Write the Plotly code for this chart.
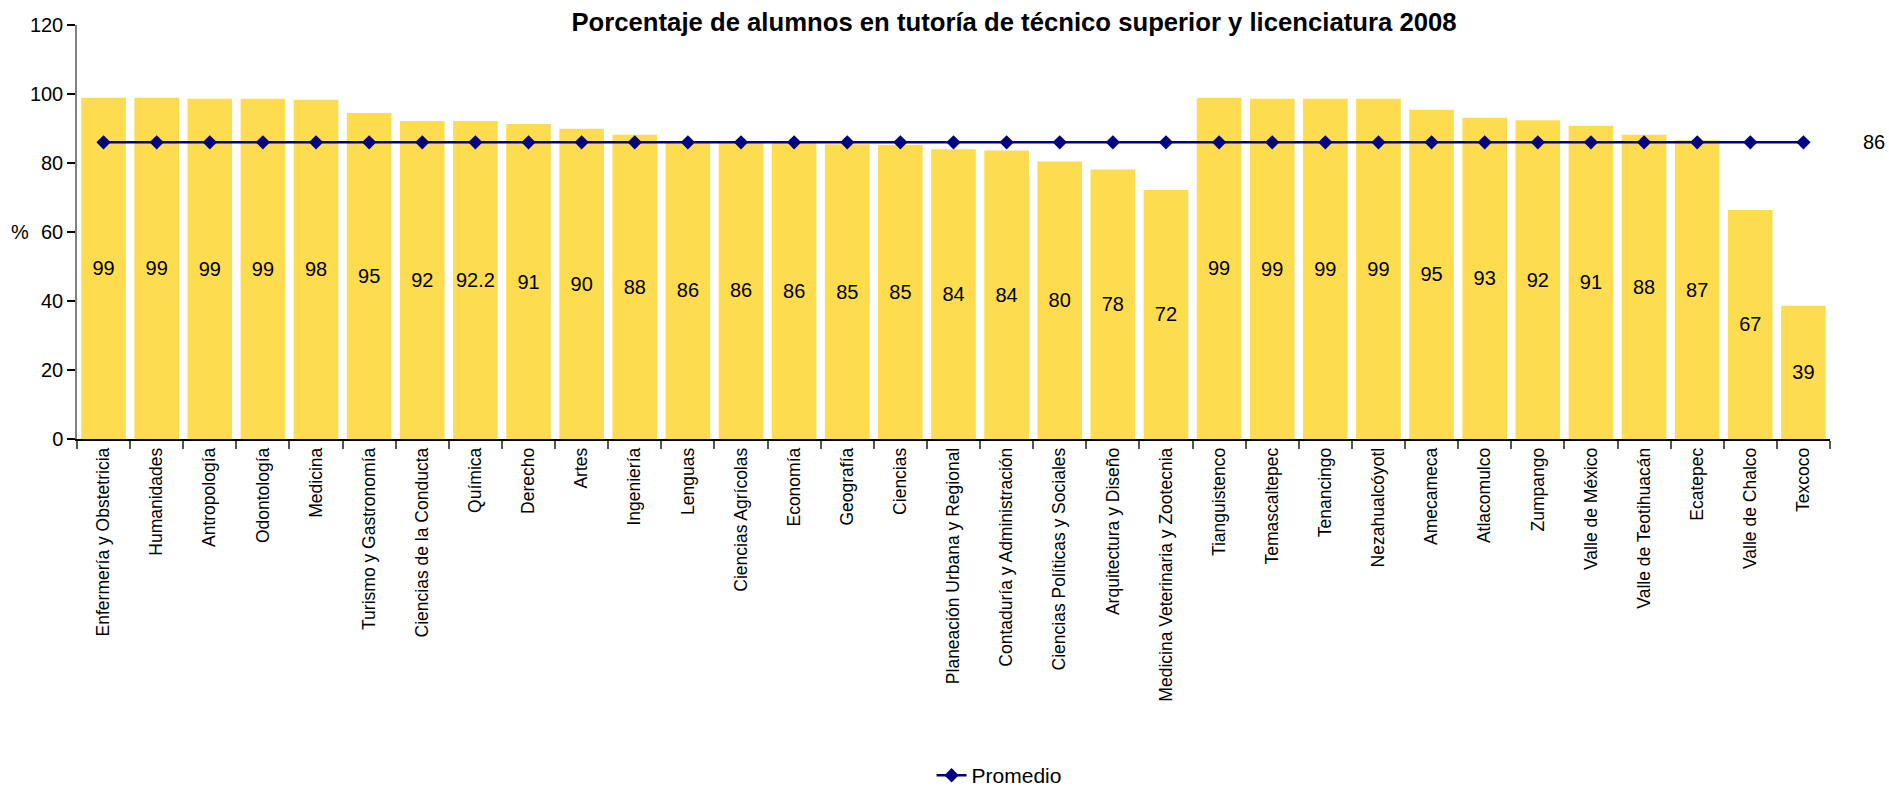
import plotly.graph_objects as go

categories = [
    "Enfermería y Obstetricia", "Humanidades", "Antropología", "Odontología", "Medicina",
    "Turismo y Gastronomía", "Ciencias de la Conducta", "Química", "Derecho", "Artes",
    "Ingeniería", "Lenguas", "Ciencias Agrícolas", "Economía", "Geografía", "Ciencias",
    "Planeación Urbana y Regional", "Contaduría y Administración",
    "Ciencias Políticas y Sociales", "Arquitectura y Diseño",
    "Medicina Veterinaria y Zootecnia", "Tianguistenco", "Temascaltepec", "Tenancingo",
    "Nezahualcóyotl", "Amecameca", "Atlacomulco", "Zumpango", "Valle de México",
    "Valle de Teotihuacán", "Ecatepec", "Valle de Chalco", "Texcoco",
]
values = [
    98.9, 98.9, 98.6, 98.6, 98.3, 94.5, 92.2, 92.2, 91.3, 89.9,
    88.2, 86.4, 86.3, 86.0, 85.4, 85.2, 84.0, 83.6, 80.4, 78.1,
    72.2, 98.9, 98.6, 98.6, 98.6, 95.4, 93.1, 92.4, 90.8, 88.2,
    86.6, 66.4, 38.6,
]
value_labels = [
    "99", "99", "99", "99", "98", "95", "92", "92.2", "91", "90",
    "88", "86", "86", "86", "85", "85", "84", "84", "80", "78",
    "72", "99", "99", "99", "99", "95", "93", "92", "91", "88",
    "87", "67", "39",
]
promedio = [86] * len(categories)
promedio_label = "86"
y_ticks = [0, 20, 40, 60, 80, 100, 120]

FONT = "Liberation Sans, Arial, sans-serif"

fig = go.Figure()
fig.add_trace(go.Bar(
    x=categories, y=values, text=value_labels,
    textposition="inside", insidetextanchor="middle", textangle=0,
    textfont=dict(size=20, color="black", family=FONT),
    marker=dict(color="#FEDC50", line=dict(width=0)),
    showlegend=False, hoverinfo="x+y",
))
fig.add_trace(go.Scatter(
    x=categories, y=promedio, mode="lines+markers", name="Promedio",
    line=dict(color="#000080", width=2.5),
    marker=dict(symbol="diamond", size=11, color="#000080"),
))

fig.add_annotation(x=1.025, y=promedio[-1], xref="paper", yref="y",
                   text=promedio_label, showarrow=False, xanchor="center",
                   font=dict(size=20, color="black", family=FONT))
fig.add_annotation(x=-0.0325, y=60, xref="paper", yref="y", text="%",
                   showarrow=False, xanchor="center",
                   font=dict(size=20, color="black", family=FONT))

fig.update_layout(
    width=1889, height=790,
    margin=dict(l=77, r=59, t=25, b=351, autoexpand=False),
    paper_bgcolor="white", plot_bgcolor="white",
    bargap=0.16,
    uniformtext=dict(minsize=20, mode="show"),
    font=dict(family=FONT, size=20, color="black"),
    title=dict(text="<b>Porcentaje de alumnos en tutoría de técnico superior y licenciatura 2008</b>",
               x=1014 / 1889, xanchor="center", y=1 - 22 / 790, yanchor="middle",
               font=dict(size=25.7, color="black", family=FONT)),
    legend=dict(orientation="h", x=0.526, xanchor="center", y=-0.813, yanchor="middle",
                font=dict(size=21, color="black", family=FONT), bgcolor="rgba(0,0,0,0)"),
    xaxis=dict(
        type="category", tickangle=-90, showgrid=False, automargin=False,
        showline=True, linecolor="black", linewidth=1.5,
        ticks="outside", ticklen=8, tickcolor="#555555", tickwidth=1.5,
        tickson="boundaries", tickfont=dict(size=17.5, color="black", family=FONT),
        range=[-0.5, len(categories) - 0.5],
    ),
    yaxis=dict(
        range=[0, 120], tickvals=y_ticks, ticktext=[str(t) for t in y_ticks],
        showgrid=False, zeroline=False, showline=True, linecolor="#808080",
        automargin=False,
        linewidth=1.5, ticks="outside", ticklen=8, tickcolor="black", tickwidth=1.5,
        tickfont=dict(size=20, color="black", family=FONT),
    ),
)

fig.write_html(
    "out.html",
    config={"displayModeBar": False},
    post_script="document.body.style.margin='0';document.body.style.overflow='hidden';",
)
